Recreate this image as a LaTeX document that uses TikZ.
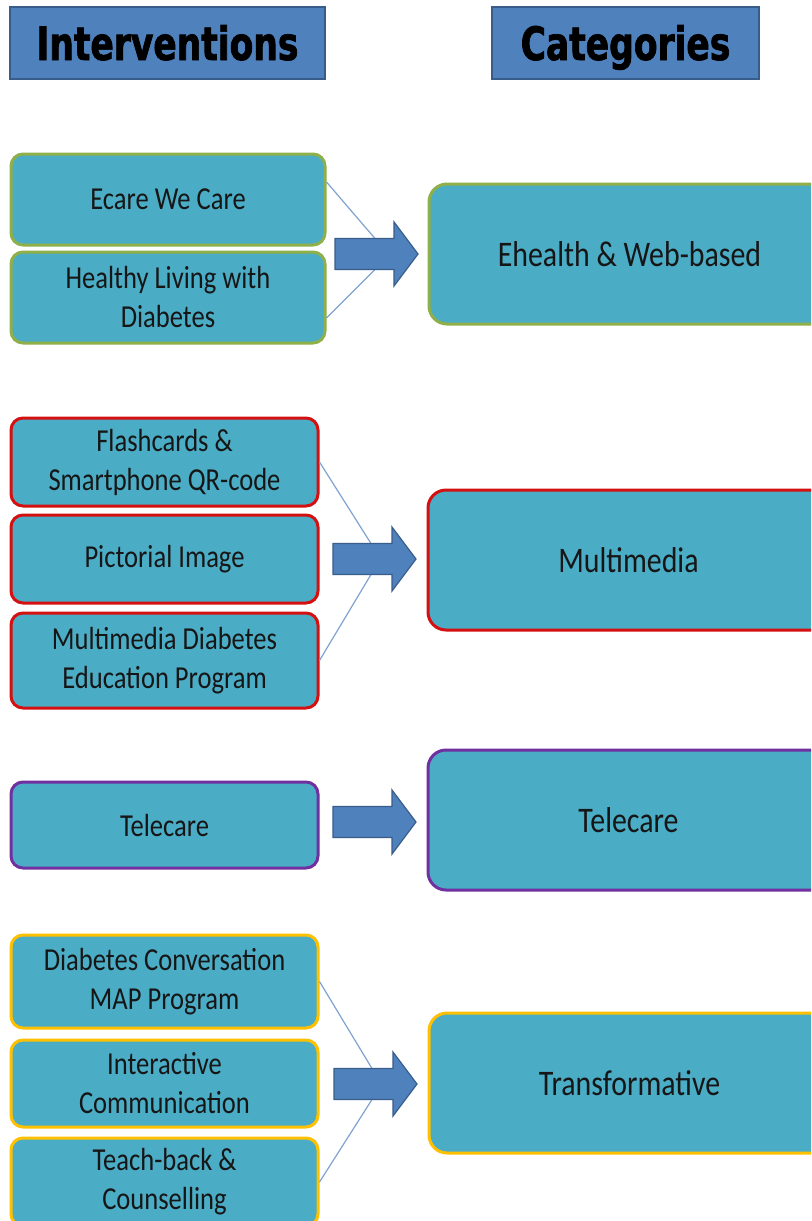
\documentclass[tikz,border=0pt]{standalone}
\usepackage{fontspec}
\setmainfont{Carlito}
\newfontfamily\boxfont[FakeStretch=0.83]{Carlito}
\newfontfamily\headfont[FakeStretch=0.75,FakeBold=1.5]{DejaVu Sans}
\usetikzlibrary{positioning}

\definecolor{boxfill}{HTML}{4BACC6}
\definecolor{headfill}{HTML}{4F81BD}
\definecolor{headline}{HTML}{385D8A}
\definecolor{ehgreen}{HTML}{8FAF48}
\definecolor{mmred}{HTML}{D41010}
\definecolor{tcpurple}{HTML}{7030A0}
\definecolor{tfyellow}{HTML}{FFC000}
\definecolor{joincol}{HTML}{7FA3D0}
\definecolor{boxtext}{HTML}{161616}

% block arrow, #1 = middle of its tail
\newcommand{\blockarrow}[1]{%
	\draw[arrowbox] (#1) ++(0,-15.5) -- ++(59,0) -- ++(0,-16.5) -- ++(24,32)
		-- ++(-24,32) -- ++(0,-16.5) -- ++(-59,0) -- cycle;}

\begin{document}
\begin{tikzpicture}[x=0.5pt,y=-0.5pt,
						inbox/.style={draw,line width=1.5pt,fill=boxfill,rounded corners=6pt,minimum width=153.5pt,minimum height=44pt,inner sep=2pt,align=center,text=boxtext,font=\boxfont\fontsize{16}{19.5}\selectfont},
						catbox/.style={draw,line width=1.5pt,fill=boxfill,rounded corners=9pt,minimum width=200.5pt,minimum height=70pt,align=center,text=boxtext,font=\boxfont\fontsize{18}{22}\selectfont},
						headbox/.style={draw=headline,line width=1pt,fill=headfill,minimum height=36pt,inner sep=0pt,text height=20pt,text depth=3pt,font=\headfont\bfseries\fontsize{23}{26}\selectfont},
						arrowbox/.style={draw=headline,line width=0.6pt,fill=headfill},
						linkline/.style={draw=joincol,line width=0.6pt}]
		\clip (0,0) rectangle (811,1221);
		\fill[white] (0,0) rectangle (811,1221);

		\node[headbox,minimum width=157.5pt]	(hi)	at (167.5,43)	{Interventions};
		\node[headbox,minimum width=133.5pt]	(hc)	at (625.5,43)	{Categories};

		% Ehealth
		\node[inbox,draw=ehgreen,minimum width=157pt,minimum height=45.5pt]	(e1)	at (168,199.5)	{Ecare We Care};
		\node[inbox,draw=ehgreen,minimum width=157pt,minimum height=45.5pt]	(e2)	at (168,297.5)	{Healthy Living with\\Diabetes};
		\node[catbox,draw=ehgreen]	(c1)	at (629.5,254)	{Ehealth \& Web-based};
		\coordinate (a1) at (335,254);

		% Multimedia
		\node[inbox,draw=mmred]	(m1)	at (164.5,462)	{Flashcards \&\\Smartphone QR-code};
		\node[inbox,draw=mmred]	(m2)	at (164.5,559)	{Pictorial Image};
		\node[inbox,draw=mmred,minimum height=47.5pt]	(m3)	at (164.5,660.5)	{Multimedia Diabetes\\Education Program};
		\node[catbox,draw=mmred]	(c2)	at (628.5,560)	{Multimedia};
		\coordinate (a2) at (333,559);

		% Telecare
		\node[inbox,draw=tcpurple,minimum height=43pt]	(t1)	at (164.5,825)	{Telecare};
		\node[catbox,draw=tcpurple]	(c3)	at (628.5,820)	{Telecare};
		\coordinate (a3) at (333,822);

		% Transformative
		\node[inbox,draw=tfyellow,minimum height=46.5pt]	(d1)	at (164.5,981.5)	{Diabetes Conversation\\MAP Program};
		\node[inbox,draw=tfyellow,minimum height=43.5pt]	(d2)	at (164.5,1083.5)	{Interactive\\Communication};
		\node[inbox,draw=tfyellow]	(d3)	at (164.5,1182)	{Teach-back \&\\Counselling};
		\node[catbox,draw=tfyellow]	(c4)	at (629.5,1083)	{Transformative};
		\coordinate (a4) at (334,1084);

		\draw[linkline] ([yshift=8.75pt]e1.east) -- ([shift={(40,-15.5)}]a1);
		\draw[linkline] ([yshift=-10.25pt]e2.east) -- ([shift={(40,15.5)}]a1);
		\draw[linkline] (m1.east) -- ([shift={(38,-15.5)}]a2);
		\draw[linkline] (m3.east) -- ([shift={(38,15.5)}]a2);
		\draw[linkline] (d1.east) -- ([shift={(38,-15.5)}]a4);
		\draw[linkline] (d3.east) -- ([shift={(38,15.5)}]a4);

		\blockarrow{a1}
		\blockarrow{a2}
		\blockarrow{a3}
		\blockarrow{a4}
	\end{tikzpicture}
\end{document}
